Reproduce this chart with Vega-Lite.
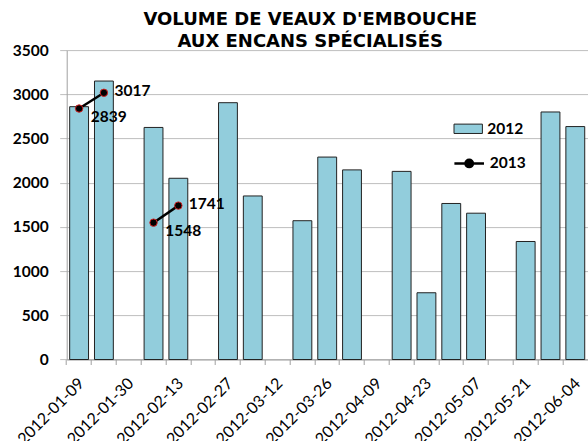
{
  "$schema": "https://vega.github.io/schema/vega-lite/v6.json",
  "autosize": "none",
  "width": 521,
  "height": 309.4,
  "padding": {"left": 66.7, "top": 50.1, "right": 0.3, "bottom": 81.5},
  "background": "white",
  "config": {"view": {"stroke": null}},
  "title": {
    "text": ["VOLUME DE VEAUX D'EMBOUCHE", "AUX ENCANS SPÉCIALISÉS"],
    "font": "DejaVu Sans",
    "fontWeight": "bold",
    "fontSize": 18,
    "lineHeight": 21.7,
    "color": "black",
    "anchor": "middle",
    "frame": "group",
    "dx": -17,
    "dy": 13,
    "offset": 5
  },
  "datasets": {
    "bars": [
      {"week": "2012-01-09", "volume": 2860},
      {"week": "2012-01-16", "volume": 3150},
      {"week": "2012-02-06", "volume": 2625},
      {"week": "2012-02-13", "volume": 2050},
      {"week": "2012-02-27", "volume": 2905},
      {"week": "2012-03-05", "volume": 1850},
      {"week": "2012-03-19", "volume": 1570},
      {"week": "2012-03-26", "volume": 2290},
      {"week": "2012-04-02", "volume": 2145},
      {"week": "2012-04-16", "volume": 2128},
      {"week": "2012-04-23", "volume": 755},
      {"week": "2012-04-30", "volume": 1765},
      {"week": "2012-05-07", "volume": 1655},
      {"week": "2012-05-21", "volume": 1335},
      {"week": "2012-05-28", "volume": 2800},
      {"week": "2012-06-04", "volume": 2635}
    ],
    "y2013": [
      {"week": "2012-01-09", "volume": 2839, "seg": "a"},
      {"week": "2012-01-16", "volume": 3017, "seg": "a"},
      {"week": "2012-02-06", "volume": 1548, "seg": "b"},
      {"week": "2012-02-13", "volume": 1741, "seg": "b"}
    ]
  },
  "encoding": {
    "x": {
      "field": "week",
      "type": "ordinal",
      "sort": null,
      "scale": {
        "domain": ["2012-01-09", "2012-01-16", "2012-01-30", "2012-02-06", "2012-02-13", "2012-02-20", "2012-02-27", "2012-03-05", "2012-03-12", "2012-03-19", "2012-03-26", "2012-04-02", "2012-04-09", "2012-04-16", "2012-04-23", "2012-04-30", "2012-05-07", "2012-05-14", "2012-05-21", "2012-05-28", "2012-06-04"],
        "paddingInner": 0.24,
        "paddingOuter": 0.12
      },
      "axis": {
        "title": null,
        "bandPosition": -0.158,
        "labelOffset": 2.4,
        "labelAngle": -45,
        "labelAlign": "right",
        "labelBaseline": "middle",
        "labelPadding": 16,
        "labelFont": "Lato",
        "labelFontSize": 16,
        "labelColor": "black",
        "labelOverlap": false,
        "labelExpr": "indexof(['2012-01-09','2012-01-30','2012-02-13','2012-02-27','2012-03-12','2012-03-26','2012-04-09','2012-04-23','2012-05-07','2012-05-21','2012-06-04'], datum.value) >= 0 ? datum.value : ''",
        "domainColor": "#A0A0A0",
        "tickColor": "#A0A0A0",
        "tickSize": 5,
        "grid": false
      }
    },
    "y": {
      "field": "volume",
      "type": "quantitative",
      "scale": {"domain": [0, 3500], "nice": false},
      "axis": {
        "title": null,
        "format": "d",
        "values": [0, 500, 1000, 1500, 2000, 2500, 3000, 3500],
        "labelFont": "Lato",
        "labelFontWeight": "bold",
        "labelFontSize": 15.5,
        "labelColor": "black",
        "labelPadding": 11.5,
        "domainColor": "#A0A0A0",
        "tickColor": "#BEBEBE",
        "tickSize": 7,
        "gridColor": "#BEBEBE",
        "grid": true
      }
    }
  },
  "layer": [
    {
      "data": {"name": "bars"},
      "mark": {"type": "bar", "stroke": "#222222", "strokeWidth": 1},
      "encoding": {
        "fill": {
          "datum": "2012",
          "scale": {"range": ["#92CDDC"]},
          "legend": {
            "title": null,
            "orient": "none",
            "legendX": 386.5,
            "legendY": 63.7,
            "padding": 0,
            "symbolType": "M-1,-0.33H1V0.33H-1Z",
            "symbolSize": 806,
            "symbolStrokeColor": "#222222",
            "symbolStrokeWidth": 1,
            "labelOffset": 4,
            "labelFont": "Lato",
            "labelFontWeight": "bold",
            "labelFontSize": 15.5,
            "labelColor": "black"
          }
        }
      }
    },
    {
      "data": {"name": "y2013"},
      "mark": {"type": "line", "strokeWidth": 2.5},
      "encoding": {
        "detail": {"field": "seg"},
        "stroke": {
          "datum": "2013",
          "scale": {"range": ["black"]},
          "legend": {
            "title": null,
            "orient": "none",
            "legendX": 386,
            "legendY": 96.8,
            "padding": 0,
            "symbolType": "M-1,0H1M-0.25,0A0.25,0.25 0 1,1 0.25,0A0.25,0.25 0 1,1 -0.25,0Z",
            "symbolSize": 876,
            "symbolStrokeWidth": 2.5,
            "symbolFillColor": "black",
            "labelOffset": 4,
            "labelFont": "Lato",
            "labelFontWeight": "bold",
            "labelFontSize": 15.5,
            "labelColor": "black",
            "encode": {"symbols": {"update": {"fill": {"value": "black"}, "strokeWidth": {"value": 2.5}}}}
          }
        }
      }
    },
    {
      "data": {"name": "y2013"},
      "mark": {"type": "point", "shape": "circle", "filled": true, "fill": "black", "stroke": "#D02020", "strokeWidth": 1, "size": 55, "opacity": 1},
      "encoding": {}
    },
    {
      "data": {"name": "y2013"},
      "transform": [{"filter": "datum.week == '2012-01-09' || datum.week == '2012-02-06'"}],
      "mark": {"type": "text", "align": "left", "baseline": "middle", "dx": 11.7, "dy": 8.5, "font": "Lato", "fontWeight": "bold", "fontSize": 15.5, "color": "black"},
      "encoding": {"text": {"field": "volume", "type": "quantitative", "format": "d"}}
    },
    {
      "data": {"name": "y2013"},
      "transform": [{"filter": "datum.week == '2012-01-16' || datum.week == '2012-02-13'"}],
      "mark": {"type": "text", "align": "left", "baseline": "middle", "dx": 10.5, "dy": -2, "font": "Lato", "fontWeight": "bold", "fontSize": 15.5, "color": "black"},
      "encoding": {"text": {"field": "volume", "type": "quantitative", "format": "d"}}
    }
  ]
}
